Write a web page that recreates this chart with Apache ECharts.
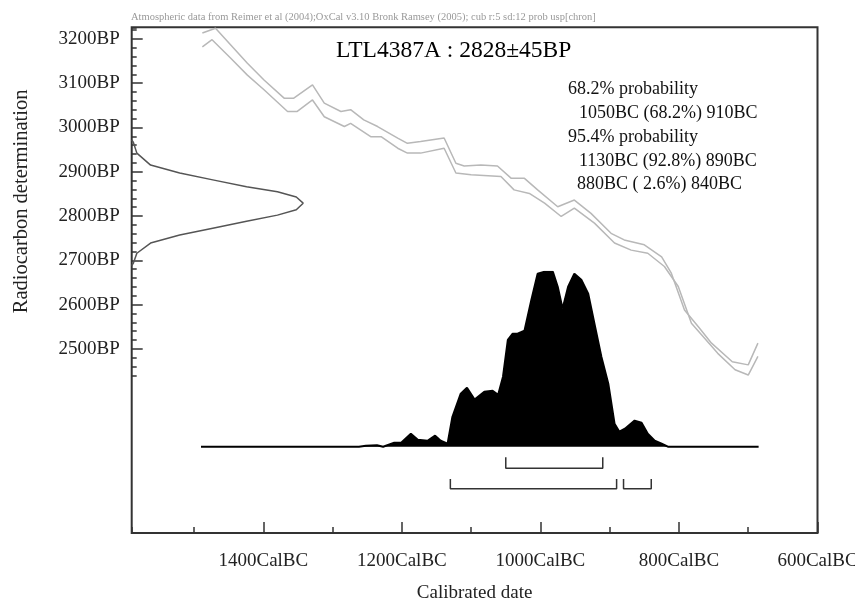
<!DOCTYPE html>
<html>
<head>
<meta charset="utf-8">
<script src="https://cdn.jsdelivr.net/npm/echarts@6/dist/echarts.min.js"></script>
<style>
  html, body { margin: 0; padding: 0; background: #fff; }
  #chart { width: 855px; height: 603px; }
</style>
</head>
<body>
<div id="chart"></div>
<script>
const FONT = '"Liberation Serif", "Times New Roman", serif';

// tick labels
const calMajorTicks = [600, 800, 1000, 1200, 1400];
const bpMajorTicks = [2500, 2600, 2700, 2800, 2900, 3000, 3100, 3200];

// calibration curve, [calBC, BP], upper and lower edge
const curveUpper = [
  [1488, 3213], [1469, 3224], [1447, 3186], [1423, 3145], [1399, 3107], [1370, 3066],
  [1356, 3066], [1329, 3096], [1312, 3055], [1288, 3036], [1274, 3040], [1255, 3017],
  [1235, 3002], [1206, 2976], [1192, 2964], [1173, 2968], [1139, 2976], [1122, 2919],
  [1110, 2913], [1086, 2915], [1062, 2913], [1042, 2885], [1023, 2885], [1004, 2859],
  [975, 2821], [951, 2836], [927, 2806], [898, 2761], [879, 2746], [850, 2735],
  [825, 2708], [811, 2671], [792, 2588], [772, 2550], [753, 2513], [723, 2471],
  [700, 2464], [686, 2513]
];
const curveLower = [
  [1488, 3182], [1474, 3198], [1447, 3156], [1423, 3118], [1399, 3085], [1365, 3036],
  [1351, 3036], [1329, 3062], [1312, 3024], [1283, 3002], [1274, 3009], [1245, 2979],
  [1230, 2979], [1206, 2953], [1192, 2942], [1173, 2942], [1139, 2953], [1122, 2897],
  [1100, 2893], [1057, 2889], [1038, 2859], [1016, 2851], [994, 2829], [970, 2799],
  [951, 2818], [922, 2784], [893, 2739], [869, 2723], [845, 2716], [821, 2686],
  [801, 2641], [782, 2558], [763, 2524], [744, 2490], [719, 2453], [700, 2441],
  [686, 2483]
];

// radiocarbon measurement, [relative height, BP]
const measured = [
  [0, 2972], [0.01, 2966], [0.03, 2942], [0.11, 2915], [0.28, 2897], [0.48, 2881],
  [0.67, 2866], [0.85, 2855], [0.96, 2843], [1, 2829], [0.96, 2814], [0.85, 2802],
  [0.67, 2788], [0.48, 2773], [0.28, 2757], [0.11, 2739], [0.03, 2716], [0.01, 2694],
  [0, 2688]
];

// calibrated probability, [calBC, relative probability]
const calProb = [
  [1490, 0], [1262, 0], [1252, 0.006], [1236, 0.008], [1227, 0], [1211, 0.023],
  [1201, 0.023], [1187, 0.074], [1177, 0.04], [1163, 0.034], [1152, 0.063], [1144, 0.034],
  [1134, 0.017], [1127, 0.171], [1115, 0.303], [1106, 0.337], [1095, 0.269], [1081, 0.314],
  [1069, 0.32], [1061, 0.297], [1054, 0.4], [1047, 0.611], [1040, 0.646], [1033, 0.646],
  [1023, 0.663], [1013, 0.84], [1004, 0.989], [994, 1], [982, 1], [975, 0.914],
  [968, 0.789], [960, 0.914], [951, 0.989], [941, 0.954], [931, 0.874], [922, 0.703],
  [912, 0.514], [902, 0.36], [893, 0.131], [886, 0.086], [878, 0.103], [864, 0.149],
  [854, 0.137], [845, 0.074], [835, 0.034], [825, 0.017], [816, 0], [685, 0]
];

// calibrated ranges, [from BC, to BC]
const range68 = [[1050, 910]];
const range95 = [[1130, 890], [880, 840]];

const titleText = 'LTL4387A : 2828±45BP';
const headerText = 'Atmospheric data from Reimer et al (2004);OxCal v3.10 Bronk Ramsey (2005); cub r:5 sd:12 prob usp[chron]';
const summaryLines = [
  '68.2% probability',
  '1050BC (68.2%) 910BC',
  '95.4% probability',
  '1130BC (92.8%) 890BC',
  '880BC ( 2.6%) 840BC'
];
const summaryIndent = [568, 579, 568, 579, 577];
const summaryY = [91, 115, 139, 163, 186];

const chart = echarts.init(document.getElementById('chart'), null, { renderer: 'canvas' });

const gridLeft = 131.7, gridRight = 37.5;

function bracket(r, level, top) {
  return {
    type: 'line', xAxisIndex: 4, yAxisIndex: 3, showSymbol: false, silent: true, clip: false,
    lineStyle: { color: '#333', width: 1.5 },
    data: [[r[0], top], [r[0], level], [r[1], level], [r[1], top]]
  };
}

const calAxisBase = { type: 'value', min: 600, max: 1590, inverse: true, position: 'bottom' };

const option = {
  animation: false,
  title: [
    { text: headerText, left: 126, top: 7, textStyle: { fontFamily: FONT, fontSize: 10.5, color: '#999', fontWeight: 'normal' } },
    { text: titleText, left: 331, top: 34, textStyle: { fontFamily: FONT, fontSize: 23.5, color: '#000', fontWeight: 'normal' } }
  ],
  graphic: summaryLines.map((t, i) => ({
    type: 'text', left: summaryIndent[i], top: summaryY[i] - 11,
    style: { text: t, font: '18px ' + FONT, fill: '#111' }
  })),
  grid: [
    { left: gridLeft, right: gridRight, top: 27.3, bottom: 70, show: true, borderColor: '#333', borderWidth: 2, outerBoundsMode: 'none', containLabel: false },
    { left: gridLeft, right: gridRight, top: 27.3, height: 348.2, outerBoundsMode: 'none', containLabel: false },
    { left: gridLeft, right: gridRight, top: 271.7, height: 224, outerBoundsMode: 'none', containLabel: false }
  ],
  xAxis: [
    Object.assign({}, calAxisBase, {
      gridIndex: 0, interval: 100,
      axisLine: { show: false },
      axisTick: { inside: true, length: 6, lineStyle: { color: '#333', width: 1.5 } },
      axisLabel: { show: false }, splitLine: { show: false }
    }),
    Object.assign({}, calAxisBase, {
      gridIndex: 0,
      name: 'Calibrated date', nameLocation: 'middle', nameGap: 51,
      nameTextStyle: { fontFamily: FONT, fontSize: 19, color: '#222' },
      axisLine: { show: false },
      axisTick: { inside: true, length: 11, customValues: calMajorTicks, lineStyle: { color: '#333', width: 1.5 } },
      axisLabel: { customValues: calMajorTicks, margin: 19, formatter: v => v + 'CalBC', fontFamily: FONT, fontSize: 19, color: '#222' },
      splitLine: { show: false }
    }),
    Object.assign({}, calAxisBase, { gridIndex: 1, show: false }),
    { type: 'value', gridIndex: 1, min: 0, max: 4, show: false, position: 'bottom' },
    Object.assign({}, calAxisBase, { gridIndex: 2, show: false })
  ],
  yAxis: [
    { type: 'value', gridIndex: 0, min: 0, max: 1, show: false, position: 'left' },
    {
      type: 'value', gridIndex: 1, min: 2440, max: 3226, interval: 20, position: 'left',
      axisLine: { show: false },
      axisTick: { inside: true, length: 5, lineStyle: { color: '#333', width: 1.5 } },
      axisLabel: { show: false }, splitLine: { show: false }
    },
    {
      type: 'value', gridIndex: 1, min: 2440, max: 3226, position: 'left',
      name: 'Radiocarbon determination', nameLocation: 'middle', nameGap: 100,
      nameTextStyle: { fontFamily: FONT, fontSize: 20.5, color: '#222' },
      axisLine: { show: false },
      axisTick: { inside: true, length: 11, customValues: bpMajorTicks, lineStyle: { color: '#333', width: 1.5 } },
      axisLabel: { customValues: bpMajorTicks, margin: 12, formatter: v => v + 'BP', fontFamily: FONT, fontSize: 19, color: '#222' },
      splitLine: { show: false }
    },
    { type: 'value', gridIndex: 2, min: -0.28, max: 1, show: false, position: 'left' }
  ],
  series: [
    {
      type: 'line', xAxisIndex: 2, yAxisIndex: 1, data: curveUpper, showSymbol: false, clip: false,
      lineStyle: { color: '#b8b8b8', width: 1.5 }
    },
    {
      type: 'line', xAxisIndex: 2, yAxisIndex: 1, data: curveLower, showSymbol: false, clip: false,
      lineStyle: { color: '#b8b8b8', width: 1.5 }
    },
    {
      type: 'line', xAxisIndex: 3, yAxisIndex: 1, data: measured, showSymbol: false,
      lineStyle: { color: '#555', width: 1.5 }
    },
    {
      type: 'line', xAxisIndex: 4, yAxisIndex: 3, data: calProb, showSymbol: false,
      lineStyle: { color: '#000', width: 2 },
      areaStyle: { color: '#000', opacity: 1 }
    },
    ...range68.map(r => bracket(r, -0.123, -0.06)),
    ...range95.map(r => bracket(r, -0.24, -0.185))
  ]
};

chart.setOption(option);
window.addEventListener('resize', () => chart.resize());
</script>
</body>
</html>
